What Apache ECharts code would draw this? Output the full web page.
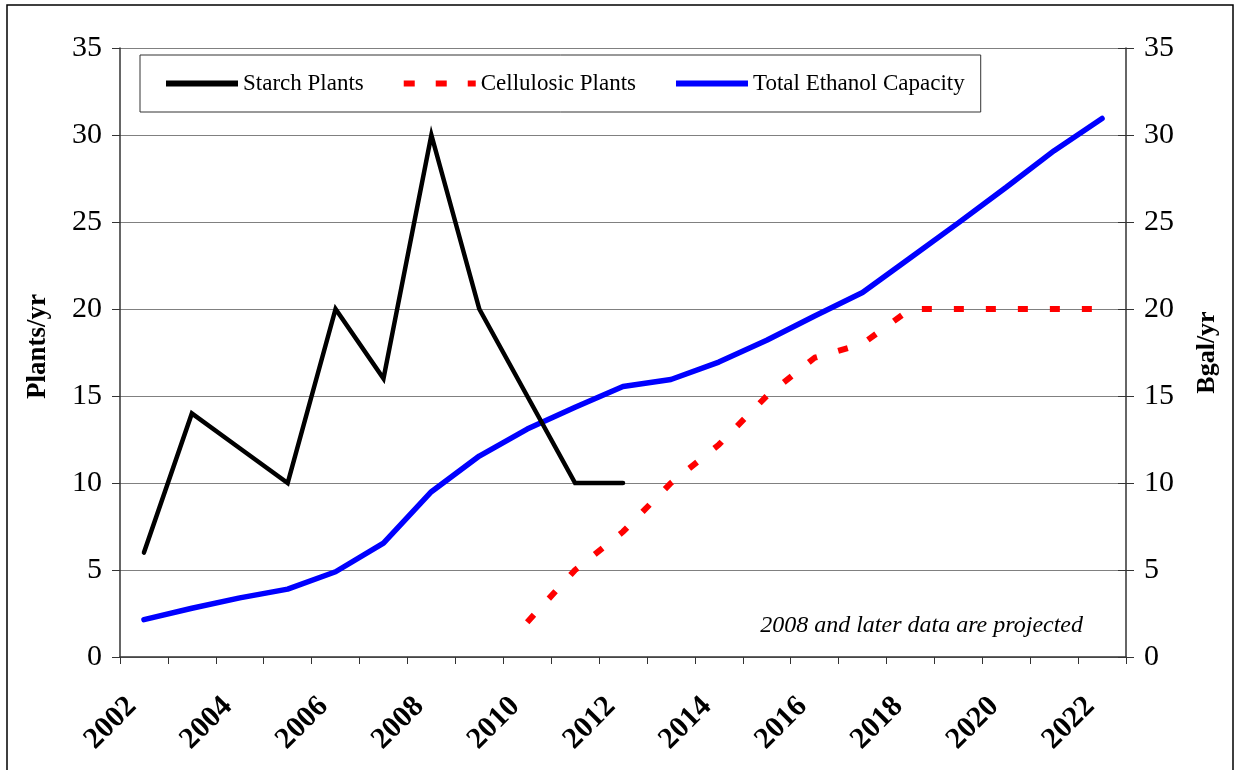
<!DOCTYPE html>
<html>
<head>
<meta charset="utf-8">
<script src="https://cdn.jsdelivr.net/npm/echarts@6/dist/echarts.min.js"></script>
<style>
html,body{margin:0;padding:0;background:#fff;}
#chart{width:1235px;height:770px;}
</style>
</head>
<body>
<div id="chart"></div>
<script>
const years = ['2002','2003','2004','2005','2006','2007','2008','2009','2010','2011','2012','2013','2014','2015','2016','2017','2018','2019','2020','2021','2022'];
const starchPlants = [6, 14, 12, 10, 20, 16, 30, 20, 15, 10, 10, null, null, null, null, null, null, null, null, null, null];
const cellulosicPlants = [null, null, null, null, null, null, null, null, 2, 5, 7.2, 10, 12.2, 15, 17.2, 18, 20, 20, 20, 20, 20];
const totalCapacity = [2.15, 2.8, 3.4, 3.9, 4.9, 6.55, 9.5, 11.55, 13.1, 14.35, 15.55, 15.95, 16.95, 18.2, 19.6, 20.95, 22.95, 24.95, 27.0, 29.1, 30.95];
const yTicks = {min: 0, max: 35, interval: 5};

const FONT = '"Liberation Serif", "Times New Roman", serif';
const solidIcon = 'path://M0,0h72v6h-72z';
const dashIcon = 'path://M0,0h11v6h-11z M32,0h11v6h-11z M64,0h8v6h-8z';
const chart = echarts.init(document.getElementById('chart'), null, {renderer: 'canvas'});
chart.setOption({
  backgroundColor: '#fff',
  animation: false,
  textStyle: {fontFamily: FONT, color: '#000'},
  grid: {left: 120, right: 109, top: 48, bottom: 113, containLabel: false},
  legend: {
    left: 140, top: 55,
    padding: [17, 16, 17, 26],
    itemGap: 40,
    itemWidth: 72,
    itemHeight: 6,
    borderColor: '#333',
    borderWidth: 1,
    textStyle: {fontFamily: FONT, fontSize: 23, color: '#000', padding: [2, 0, 0, 0]},
    data: [
      {name: 'Starch Plants', icon: solidIcon},
      {name: 'Cellulosic Plants', icon: dashIcon},
      {name: 'Total Ethanol Capacity', icon: solidIcon}
    ]
  },
  xAxis: {
    type: 'category',
    data: years,
    boundaryGap: true,
    axisLine: {lineStyle: {color: '#333', width: 1.5}},
    axisTick: {show: true, interval: 0, length: 7, lineStyle: {color: '#333'}},
    axisLabel: {interval: 1, rotate: 45, margin: 33, padding: [0, 17, 0, 0], fontFamily: FONT, fontSize: 30, fontWeight: 'bold', color: '#000'}
  },
  yAxis: [
    {
      type: 'value', min: yTicks.min, max: yTicks.max, interval: yTicks.interval,
      name: 'Plants/yr', nameLocation: 'middle', nameGap: 68, nameRotate: 90,
      nameTextStyle: {fontFamily: FONT, fontSize: 27, fontWeight: 'bold', color: '#000', padding: [0, 0, 0, 12]},
      axisLine: {show: true, lineStyle: {color: '#333', width: 1.5}},
      axisTick: {show: true, length: 8, lineStyle: {color: '#333'}},
      axisLabel: {margin: 18, fontFamily: FONT, fontSize: 30, color: '#000'},
      splitLine: {show: true, lineStyle: {color: '#808080', width: 1}}
    },
    {
      type: 'value', min: yTicks.min, max: yTicks.max, interval: yTicks.interval,
      name: 'Bgal/yr', nameLocation: 'middle', nameGap: 68, nameRotate: 90,
      nameTextStyle: {fontFamily: FONT, fontSize: 26, fontWeight: 'bold', color: '#000'},
      axisLine: {show: true, lineStyle: {color: '#333', width: 1.5}},
      axisTick: {show: true, length: 8, lineStyle: {color: '#333'}},
      axisLabel: {margin: 18, fontFamily: FONT, fontSize: 30, color: '#000'},
      splitLine: {show: false}
    },
    {
      type: 'value', position: 'right', min: yTicks.min, max: yTicks.max, interval: yTicks.interval,
      axisLine: {show: false},
      axisTick: {show: true, inside: true, length: 8, lineStyle: {color: '#333'}},
      axisLabel: {show: false},
      splitLine: {show: false}
    }
  ],
  series: [
    {
      name: 'Starch Plants', type: 'line', yAxisIndex: 0, data: starchPlants,
      symbol: 'none', connectNulls: false,
      lineStyle: {color: '#000', width: 4.5, cap: 'round', join: 'miter'},
      itemStyle: {color: '#000'}, z: 3
    },
    {
      name: 'Cellulosic Plants', type: 'line', yAxisIndex: 0, data: cellulosicPlants,
      symbol: 'none',
      lineStyle: {color: '#ff0000', width: 6, type: [10, 22], cap: 'butt'},
      itemStyle: {color: '#ff0000'}, z: 2
    },
    {
      name: 'Total Ethanol Capacity', type: 'line', yAxisIndex: 1, data: totalCapacity,
      symbol: 'none',
      lineStyle: {color: '#0000ff', width: 5.5, cap: 'round'},
      itemStyle: {color: '#0000ff'}, z: 2
    }
  ],
  graphic: [
    {type: 'rect', shape: {x: 7, y: 5, width: 1226, height: 800}, style: {fill: 'none', stroke: '#000', lineWidth: 1.5}, silent: true},
    {type: 'text', right: 152, top: 614, style: {text: '2008 and later data are projected', fontFamily: FONT, fontSize: 24, fontStyle: 'italic', fill: '#000'}}
  ]
});
</script>
</body>
</html>
